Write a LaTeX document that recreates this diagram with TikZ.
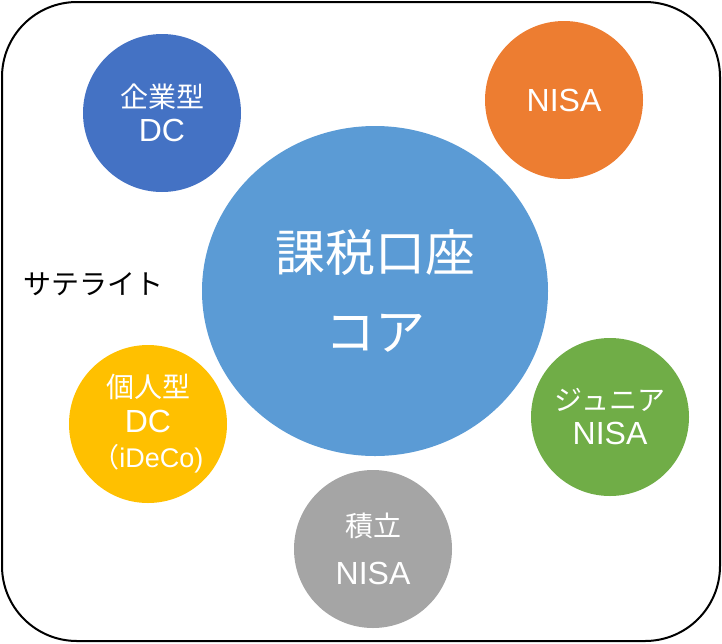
\documentclass[tikz,border=0pt]{standalone}
\usepackage{fontspec}
\setmainfont{Liberation Sans}
\newfontfamily\jpfont{Noto Sans CJK JP}
\usetikzlibrary{shapes.geometric}
\definecolor{CoreBlue}{HTML}{5B9BD5}
\definecolor{SatBlue}{HTML}{4472C4}
\definecolor{SatOrange}{HTML}{ED7D31}
\definecolor{SatYellow}{HTML}{FFC000}
\definecolor{SatGreen}{HTML}{70AD47}
\definecolor{SatGray}{HTML}{A5A5A5}
\newcommand{\jptext}[1]{{\jpfont\fontsize{28}{34}\selectfont #1}}

\begin{document}
\begin{tikzpicture}[x=1pt,y=-1pt,
  sat/.style={circle,minimum size=158pt,inner sep=0pt,text=white,align=center,
    font=\fontsize{32}{34}\selectfont},
  core/.style={ellipse,minimum width=346pt,minimum height=330pt,inner sep=0pt,
    fill=CoreBlue,text=white,align=center,font=\jpfont\fontsize{50}{79}\selectfont}]
\useasboundingbox (0,0) rectangle (722,643);
\draw[line width=2pt,rounded corners=75pt] (2,2) rectangle (720,641);
% core account
\node[core] (core) at (375,291) {課税口座\\コア};
% satellites
\node[sat,fill=SatBlue] (kigyo) at (162,113) {\jptext{企業型}\\DC};
\node[sat,fill=SatOrange] (nisa) at (564,100) {NISA};
\node[sat,fill=SatYellow,font=\fontsize{32}{35}\selectfont] (kojin) at (148,424)
  {\jptext{個人型}\\DC\\{\fontsize{27}{35}\selectfont{\jpfont （}iDeCo)}};
\node[sat,fill=SatGreen] (junior) at (610,417) {\jptext{ジュニア}\\NISA};
\node[sat,fill=SatGray,font=\fontsize{32}{48}\selectfont] (tsumitate) at (373,549)
  {\jptext{積立}\\NISA};
\node[font=\jpfont\fontsize{28}{34}\selectfont] (satlabel) at (93,284) {サテライト};
\end{tikzpicture}
\end{document}
